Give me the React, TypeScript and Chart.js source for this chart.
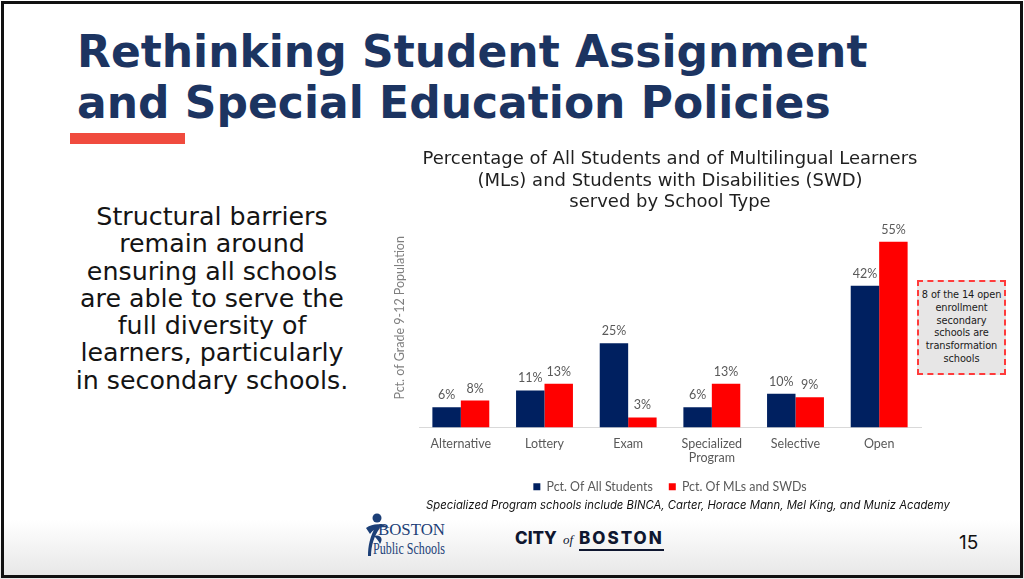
import React, { useEffect, useRef } from "react";
import { Chart, registerables } from "chart.js";

Chart.register(...registerables);

// ---- data ----
const categories: (string | string[])[] = ["Alternative", "Lottery", "Exam", ["Specialized", "Program"], "Selective", "Open"];
const allStudents = [6, 11, 25, 6, 10, 42];
const mlSwd = [8, 13, 3, 13, 9, 55];
const seriesNames = ["Pct. Of All Students", "Pct. Of MLs and SWDs"];
const chartTitle = [
  "Percentage of All Students and of Multilingual Learners",
  "(MLs) and Students with Disabilities (SWD)",
  "served by School Type",
];
const yAxisTitle = "Pct. of Grade 9-12 Population";
const yMax = 65;

const NAVY = "#002060";
const RED = "#FF0000";
const GREY = "#595959";
const AXIS_FONT = "Lato";
const WIDE_FONT = "DejaVu Sans";

const valueLabels = {
  id: "valueLabels",
  afterDatasetsDraw(chart: any) {
    const ctx = chart.ctx;
    ctx.save();
    ctx.font = `12.5px ${AXIS_FONT}`;
    ctx.fillStyle = GREY;
    ctx.textAlign = "center";
    ctx.textBaseline = "middle";
    chart.data.datasets.forEach((ds: any, i: number) => {
      const meta = chart.getDatasetMeta(i);
      meta.data.forEach((el: any, j: number) => {
        ctx.fillText(`${ds.data[j]}%`, el.x, el.y - 12);
      });
    });
    ctx.restore();
  },
};

const yTitlePlugin = {
  id: "yTitlePlugin",
  afterDraw(chart: any) {
    const ctx = chart.ctx;
    const { left, top, bottom } = chart.chartArea;
    ctx.save();
    ctx.font = `12.5px ${AXIS_FONT}`;
    ctx.fillStyle = "#7f7f7f";
    ctx.textAlign = "center";
    ctx.textBaseline = "middle";
    ctx.translate(left - 19, (top + bottom) / 2);
    ctx.rotate(-Math.PI / 2);
    ctx.fillText(yAxisTitle, 0, 0);
    ctx.restore();
  },
};

function BarChart() {
  const ref = useRef<HTMLCanvasElement | null>(null);
  useEffect(() => {
    if (!ref.current) return;
    const chart = new Chart(ref.current, {
      type: "bar",
      data: {
        labels: categories as any,
        datasets: [
          { label: seriesNames[0], data: allStudents, backgroundColor: NAVY, borderWidth: 0 },
          { label: seriesNames[1], data: mlSwd, backgroundColor: RED, borderWidth: 0 },
        ],
      },
      options: {
        animation: false,
        responsive: false,
        maintainAspectRatio: false,
        layout: { padding: { left: 39, right: 39, top: 0, bottom: 2 } },
        datasets: { bar: { categoryPercentage: 0.68, barPercentage: 1 } } as any,
        scales: {
          x: {
            grid: { display: false, drawTicks: true, tickLength: 9 },
            border: { display: true, color: "#d9d9d9", width: 1 },
            ticks: {
              color: GREY,
              font: { family: AXIS_FONT, size: 12.5, lineHeight: 14 / 12.5 },
              padding: 0,
              maxRotation: 0,
              autoSkip: false,
            },
          },
          y: { display: false, min: 0, max: yMax },
        },
        plugins: {
          title: {
            display: true,
            text: chartTitle,
            color: "#1f1f1f",
            font: { family: WIDE_FONT, size: 18, weight: "normal", lineHeight: 21.5 / 18 },
            padding: { top: 4, bottom: -5.5 } as any,
          },
          legend: {
            position: "bottom",
            labels: {
              boxWidth: 7,
              boxHeight: 7,
              padding: 16,
              color: GREY,
              font: { family: AXIS_FONT, size: 12.4 },
            },
          },
          tooltip: { enabled: false },
        },
      },
      plugins: [valueLabels, yTitlePlugin],
    });
    return () => chart.destroy();
  }, []);
  return (
    <canvas
      ref={ref}
      width={580}
      height={360}
      style={{ position: "absolute", left: 380, top: 145, width: 580, height: 360 }}
    />
  );
}

const leftLines = [
  "Structural barriers",
  "remain around",
  "ensuring all schools",
  "are able to serve the",
  "full diversity of",
  "learners, particularly",
  "in secondary schools.",
];
const calloutLines = ["8 of the 14 open", "enrollment", "secondary", "schools are", "transformation", "schools"];

export default function App() {
  return (
    <div
      style={{
        position: "absolute",
        left: 0,
        top: 0,
        width: 1024,
        height: 579,
        overflow: "hidden",
        background: "#fff",
        fontFamily: WIDE_FONT,
      }}
    >
      {/* bottom gradient */}
      <div
        style={{
          position: "absolute",
          left: 0,
          top: 520,
          width: 1024,
          height: 59,
          background: "linear-gradient(#ffffff, #e6e6e6)",
        }}
      />
      {/* title */}
      <div
        style={{
          position: "absolute",
          left: 77,
          top: 26,
          fontSize: 44,
          lineHeight: "51px",
          fontWeight: 700,
          color: "#1c3461",
          whiteSpace: "nowrap",
        }}
      >
        <div>Rethinking Student Assignment</div>
        <div>and Special Education Policies</div>
      </div>
      <div style={{ position: "absolute", left: 70, top: 133, width: 115, height: 11, background: "#f04b3e" }} />
      {/* left text */}
      <div
        style={{
          position: "absolute",
          left: 42,
          top: 203,
          width: 340,
          textAlign: "center",
          fontSize: 25.3,
          lineHeight: "27.3px",
          color: "#141414",
        }}
      >
        {leftLines.map((l, i) => (
          <div key={i} style={{ whiteSpace: "nowrap" }}>{l}</div>
        ))}
      </div>

      <BarChart />

      {/* callout */}
      <div
        style={{
          position: "absolute",
          left: 917,
          top: 280,
          width: 89,
          height: 95,
          boxSizing: "border-box",
          border: "2px dashed #ff3b3b",
          background: "#e7e6e6",
          textAlign: "center",
          fontSize: 9.8,
          lineHeight: "12.8px",
          paddingTop: 7,
          color: "#1a1a1a",
          letterSpacing: -0.1,
        }}
      >
        {calloutLines.map((l, i) => (
          <div key={i} style={{ whiteSpace: "nowrap" }}>{l}</div>
        ))}
      </div>

      {/* footnote */}
      <div
        style={{
          position: "absolute",
          left: 388,
          top: 498,
          width: 600,
          textAlign: "center",
          fontFamily: "Inter",
          fontSize: 11.3,
          lineHeight: "14px",
          fontStyle: "italic",
          color: "#111",
          whiteSpace: "nowrap",
        }}
      >
        Specialized Program schools include BINCA, Carter, Horace Mann, Mel King, and Muniz Academy
      </div>

      {/* BPS logo */}
      <svg style={{ position: "absolute", left: 362, top: 512 }} width={100} height={48}>
        <circle cx={15} cy={6} r={4.5} fill="#1c3f77" />
        <path d="M4 16 C 12 10, 22 12, 28 16 C 20 14, 12 16, 8 22 Z" fill="#1c3f77" />
        <path d="M14 14 C 8 24, 6 34, 6 44 L 9 44 C 9 34, 12 24, 18 16 Z" fill="#1c3f77" />
        <path d="M12 24 C 18 22, 22 26, 18 32 C 16 28, 14 26, 12 24 Z" fill="#1c3f77" />
        <text x={16} y={23} fontFamily="Liberation Serif" fontSize={17} fill="#1c3f77" textLength={67} lengthAdjust="spacingAndGlyphs">BOSTON</text>
        <text x={11} y={42} fontFamily="Liberation Serif" fontSize={17} fill="#1c3f77" textLength={72} lengthAdjust="spacingAndGlyphs">Public Schools</text>
      </svg>

      {/* City of Boston */}
      <div
        style={{
          position: "absolute",
          left: 515,
          top: 528,
          whiteSpace: "nowrap",
          color: "#0f1730",
          fontFamily: "Inter",
          fontSize: 17,
          fontWeight: 800,
          lineHeight: "20px",
        }}
      >
        <span>CITY</span>
        <span style={{ fontFamily: "Liberation Serif", fontStyle: "italic", fontWeight: 400, fontSize: 13, margin: "0 6px" }}>of</span>
        <span style={{ borderBottom: "2.5px solid #0f1730", paddingBottom: 1, letterSpacing: 2 }}>BOSTON</span>
      </div>

      {/* page number */}
      <div style={{ position: "absolute", left: 959, top: 531, fontFamily: "Inter", fontSize: 19, lineHeight: "24px", color: "#111" }}>15</div>

      {/* frame */}
      <div
        style={{
          position: "absolute",
          left: 1,
          top: 1,
          width: 1022,
          height: 577,
          boxSizing: "border-box",
          border: "3px solid #111",
          pointerEvents: "none",
        }}
      />
    </div>
  );
}
